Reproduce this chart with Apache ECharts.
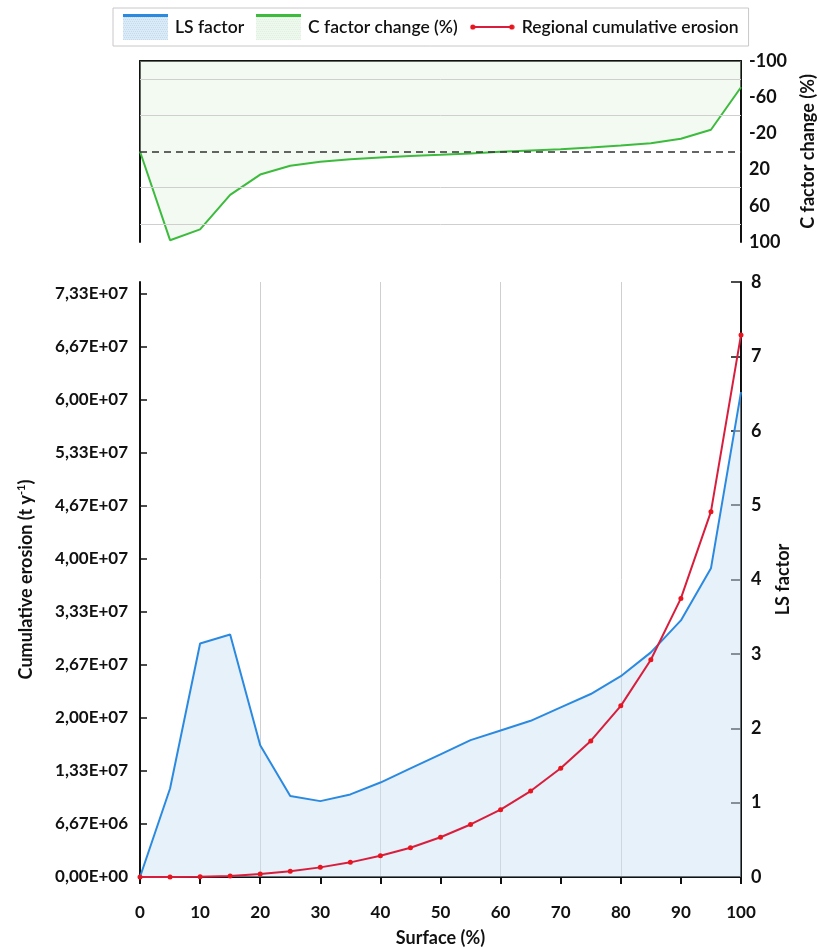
<!DOCTYPE html>
<html>
<head>
<meta charset="utf-8">
<script src="https://cdn.jsdelivr.net/npm/echarts@6/dist/echarts.min.js"></script>
<style>
html,body{margin:0;padding:0;background:#fff;}
#chart{width:817px;height:949px;}
</style>
</head>
<body>
<div id="chart"></div>
<script>
// ---- data ----
const surface = [0,5,10,15,20,25,30,35,40,45,50,55,60,65,70,75,80,85,90,95,100];
const lsFactor = [0,1.19,3.14,3.26,1.77,1.09,1.02,1.11,1.27,1.46,1.65,1.84,1.97,2.10,2.28,2.46,2.70,3.02,3.45,4.15,6.52];
const cFactorChange = [0,98,86,48,25.5,15.8,11.4,8.5,6.6,5.1,3.7,2.2,0.4,-1.1,-2.6,-4.4,-6.6,-9,-14,-24,-71];
const cumulativeErosion = [0,0.01e6,0.04e6,0.13e6,0.38e6,0.71e6,1.21e6,1.84e6,2.68e6,3.68e6,4.99e6,6.6e6,8.46e6,1.08e7,1.366e7,1.71e7,2.15e7,2.73e7,3.50e7,4.59e7,6.81e7];
const erosionTicks = [0,6.6667e6,1.33333e7,2.0e7,2.66667e7,3.33333e7,4.0e7,4.66667e7,5.33333e7,6.0e7,6.66667e7,7.33333e7];
const cTicks = [-100,-60,-20,20,60,100];
const cGridLines = [-80,-40,40,80];
const surfaceTicks = [0,10,20,30,40,50,60,70,80,90,100];

const FONT = 'Lato';
const BLUE = '#2b8ae0', GREEN = '#3dbb3d', RED = '#d81e3c', DOT = '#e8141e';

function pairs(xv, yv){ return xv.map((x,i)=>[x, yv[i]]); }

function sci(v){
  if (v === 0) return '0,00E+00';
  const s = v.toExponential(2);
  const m = s.split('e');
  let exp = parseInt(m[1],10);
  const sign = exp < 0 ? '-' : '+';
  exp = Math.abs(exp);
  return m[0].replace('.', ',') + 'E' + sign + (exp < 10 ? '0' + exp : exp);
}

function makeIcon(kind){
  const c = document.createElement('canvas');
  c.width = 45; c.height = 26;
  const g = c.getContext('2d');
  if (kind === 'ls' || kind === 'c'){
    g.fillStyle = kind === 'ls' ? '#dbeaf7' : '#eef8ee';
    g.fillRect(0, 2, 45, 24);
    g.fillStyle = kind === 'ls' ? '#c4dbef' : '#e0f0e0';
    for (let y = 3; y < 26; y += 2) for (let x = (y % 4 === 1 ? 0 : 1); x < 45; x += 2) g.fillRect(x, y, 1, 1);
    g.fillStyle = kind === 'ls' ? BLUE : GREEN;
    g.fillRect(0, 0, 45, 3);
  } else {
    g.strokeStyle = RED; g.lineWidth = 2;
    g.beginPath(); g.moveTo(3, 13); g.lineTo(42, 13); g.stroke();
    g.fillStyle = DOT;
    g.beginPath(); g.arc(3, 13, 2.6, 0, Math.PI*2); g.fill();
    g.beginPath(); g.arc(42, 13, 2.6, 0, Math.PI*2); g.fill();
  }
  return 'image://' + c.toDataURL('image/png');
}

const chart = echarts.init(document.getElementById('chart'), null, {renderer:'canvas'});

const labelStyle = {fontFamily: FONT, fontWeight: 'bold', fontSize: 17, color: '#111'};
const nameStyle = {fontFamily: FONT, fontWeight: 'bold', fontSize: 18, color: '#111'};
const black = {color:'#111', width:2};

const option = {
  backgroundColor: '#fff',
  animation: false,
  legend: {
    left: 113, top: 8,
    padding: [6, 10, 6, 10],
    itemGap: 12,
    itemWidth: 45, itemHeight: 26,
    backgroundColor: '#fff',
    borderColor: '#c8c8c8', borderWidth: 1,
    textStyle: {fontFamily: FONT, fontSize: 17.5, fontWeight: 600, color: '#111', padding: [0, 0, 0, 2]},
    data: [
      {name: 'LS factor', icon: makeIcon('ls')},
      {name: 'C factor change (%)', icon: makeIcon('c')},
      {name: 'Regional cumulative erosion', icon: makeIcon('e')}
    ]
  },
  grid: [
    {left: 140, right: 76, top: 61, height: 181, outerBoundsMode: 'none', containLabel: false},
    {left: 140, right: 76, top: 282, height: 595, outerBoundsMode: 'none', containLabel: false}
  ],
  xAxis: [
    {gridIndex: 0, type: 'value', min: 0, max: 100, position: 'top',
     axisLine: {show: true, onZero: false, lineStyle: black}, axisTick: {show: false}, axisLabel: {show: false}, splitLine: {show: false}},
    {gridIndex: 1, type: 'value', min: 0, max: 100, interval: 10, position: 'bottom',
     axisLine: {show: true, onZero: false, lineStyle: black},
     axisTick: {show: true, inside: false, length: 7, lineStyle: black, customValues: surfaceTicks},
     axisLabel: Object.assign({margin: 27, customValues: surfaceTicks}, labelStyle),
     splitLine: {show: false},
     name: 'Surface (%)', nameLocation: 'middle', nameGap: 52, nameTextStyle: nameStyle},
    {gridIndex: 1, type: 'value', min: 0, max: 100, interval: 20, position: 'bottom',
     axisLine: {show: false}, axisTick: {show: false}, axisLabel: {show: false},
     splitLine: {show: true, lineStyle: {color: '#cfcfcf', width: 1}}}
  ],
  yAxis: [
    {gridIndex: 0, type: 'value', position: 'right', inverse: true, min: -100, max: 100, interval: 40,
     axisLine: {show: true, onZero: false, lineStyle: black}, axisTick: {show: false},
     axisLabel: Object.assign({margin: 8, customValues: cTicks}, labelStyle, {fontSize: 18}),
     splitLine: {show: false},
     name: 'C factor change (%)', nameLocation: 'middle', nameGap: 58, nameRotate: 90, nameTextStyle: nameStyle},
    {gridIndex: 0, type: 'value', position: 'left', inverse: true, min: -100, max: 100,
     axisLine: {show: true, onZero: false, lineStyle: black}, axisTick: {show: false}, axisLabel: {show: false}, splitLine: {show: false}},
    {gridIndex: 1, type: 'value', position: 'left', min: 0, max: 7.475e7, interval: 2e7/3,
     axisLine: {show: true, onZero: false, lineStyle: black},
     axisTick: {show: true, inside: true, length: 7, lineStyle: {color:'#111', width: 1.5}, customValues: erosionTicks},
     axisLabel: Object.assign({margin: 12, customValues: erosionTicks, formatter: v => sci(v)}, labelStyle),
     splitLine: {show: false},
     name: 'Cumulative erosion (t y{sup|-1})', nameLocation: 'middle', nameGap: 104,
     nameTextStyle: Object.assign({}, nameStyle,
       {rich: {sup: {fontFamily: FONT, fontWeight: 'bold', fontSize: 11, color: '#111', padding: [0, 0, 9, 0]}}})},
    {gridIndex: 1, type: 'value', position: 'right', min: 0, max: 8, interval: 1,
     axisLine: {show: true, onZero: false, lineStyle: black},
     axisTick: {show: true, inside: true, length: 10, lineStyle: {color:'#111', width: 1.5}},
     axisLabel: Object.assign({margin: 10}, labelStyle, {fontSize: 18}),
     splitLine: {show: false},
     name: 'LS factor', nameLocation: 'middle', nameGap: 33, nameRotate: 90, nameTextStyle: nameStyle}
  ],
  series: [
    {name: 'C factor change (%)', type: 'line', xAxisIndex: 0, yAxisIndex: 0,
     data: pairs(surface, cFactorChange), symbol: 'none', color: GREEN,
     lineStyle: {color: GREEN, width: 2},
     areaStyle: {color: 'rgba(222,242,222,0.55)', origin: 'start'},
     markLine: {silent: true, symbol: 'none', animation: false, label: {show: false},
       data: cGridLines.map(v => ({yAxis: v, lineStyle: {color: '#cfcfcf', width: 1, type: 'solid'}}))
         .concat([{yAxis: 0, lineStyle: {color: '#333', width: 1.5, type: [7, 5]}}])},
     z: 2},
    {name: 'LS factor', type: 'line', xAxisIndex: 1, yAxisIndex: 3,
     data: pairs(surface, lsFactor), symbol: 'none', color: BLUE,
     lineStyle: {color: BLUE, width: 2},
     areaStyle: {color: 'rgba(200,225,245,0.65)'}, z: 2},
    {name: 'Regional cumulative erosion', type: 'line', xAxisIndex: 1, yAxisIndex: 2,
     data: pairs(surface, cumulativeErosion), symbol: 'circle', symbolSize: 5, showSymbol: true,
     color: DOT, itemStyle: {color: DOT, borderWidth: 0},
     lineStyle: {color: RED, width: 2}, z: 3}
  ]
};
chart.setOption(option);
</script>
</body>
</html>
